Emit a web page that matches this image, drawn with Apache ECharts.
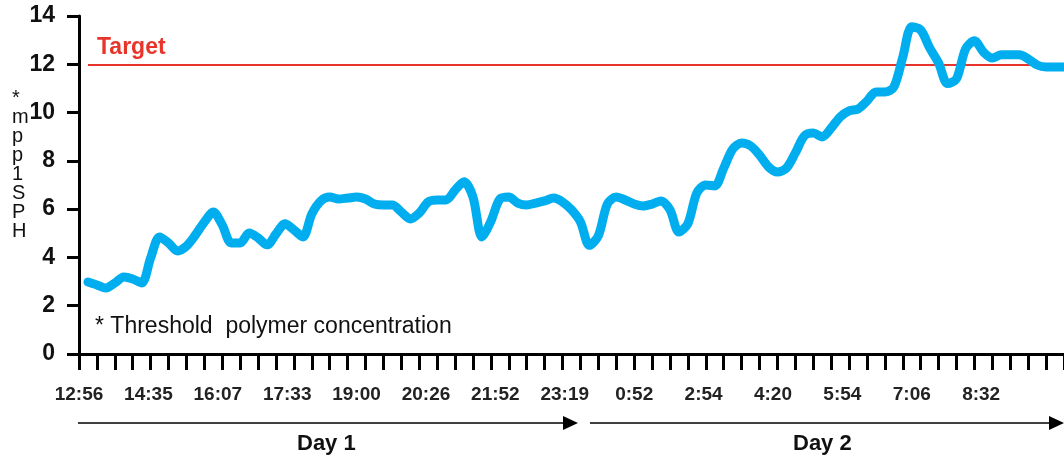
<!DOCTYPE html>
<html>
<head>
  <meta charset="utf-8">
  <title>Threshold polymer concentration</title>
  <style>
    html, body { margin: 0; padding: 0; background: #fff; }
    #chart { width: 1064px; height: 458px; }
  </style>
</head>
<body>
<div id="chart"></div>
<script src="https://cdn.jsdelivr.net/npm/echarts@6/dist/echarts.min.js"></script>
<script>
// time labels shown under the axis
const timeLabels = ['12:56', '14:35', '16:07', '17:33', '19:00', '20:26', '21:52',
  '23:19', '0:52', '2:54', '4:20', '5:54', '7:06', '8:32'];

// readings, one every 4 axis steps (first slot empty)
const readings = [null,
  2.98, 2.86, 2.73, 2.94, 3.19, 3.11, 2.94, 3.98, 4.85, 4.6,
  4.27, 4.47, 4.93, 5.47, 5.88, 5.34, 4.6, 4.6, 5.01, 4.81,
  4.52, 4.97, 5.39, 5.14, 4.85, 5.8, 6.34, 6.5, 6.42, 6.46,
  6.5, 6.42, 6.21, 6.17, 6.17, 5.88, 5.59, 5.84, 6.3, 6.38,
  6.38, 6.79, 7.13, 6.5, 4.85, 5.5, 6.42, 6.5, 6.25, 6.17,
  6.25, 6.34, 6.46, 6.3, 5.97, 5.47, 4.5, 4.9, 6.21, 6.5,
  6.38, 6.21, 6.13, 6.21, 6.34, 5.97, 5.05, 5.4, 6.67, 7.0,
  6.96, 7.7, 8.49, 8.74, 8.62, 8.24, 7.75, 7.54, 7.7, 8.33,
  9.03, 9.15, 8.99, 9.36, 9.82, 10.07, 10.15, 10.48, 10.85, 10.85,
  11.06, 12.3, 13.55, 13.42, 12.68, 12.05, 11.2, 11.4, 12.63, 12.97,
  12.51, 12.26, 12.39, 12.39, 12.39, 12.22, 11.97, 11.89, 11.89, 11.89];

const target = 12;
const yMin = 0, yMax = 14, yStep = 2;

// axis has 31 steps between labels, a tick every 8 steps
const labelEvery = 31, tickEvery = 8, stepsPerReading = 4;
const axisSteps = (readings.length - 1) * stepsPerReading;
const axisCats = [];
for (let i = 0; i <= axisSteps; i++) {
  axisCats.push(i % labelEvery === 0 ? (timeLabels[i / labelEvery] || '') : '');
}
const sampleCats = readings.map((v, i) => String(i));

const font = '"Liberation Sans", Arial, sans-serif';
const chart = echarts.init(document.getElementById('chart'));

chart.setOption({
  animation: false,
  grid: { left: 79, right: -4, top: 16, bottom: 104 },
  xAxis: [
    {
      type: 'category',
      data: axisCats,
      boundaryGap: false,
      axisLine: { lineStyle: { color: '#000', width: 3 } },
      axisTick: { interval: tickEvery - 1, length: 16, lineStyle: { color: '#000', width: 3 } },
      axisLabel: {
        interval: labelEvery - 1, margin: 31, color: '#222',
        fontFamily: font, fontWeight: 'bold', fontSize: 19
      },
      splitLine: { show: false }
    },
    {
      type: 'category',
      data: sampleCats,
      boundaryGap: false,
      show: false
    }
  ],
  yAxis: {
    type: 'value',
    min: yMin, max: yMax, interval: yStep,
    axisLine: { show: true, lineStyle: { color: '#000', width: 3 } },
    axisTick: { show: true, length: 12, lineStyle: { color: '#000', width: 3 } },
    axisLabel: { margin: 24, color: '#111', fontFamily: font, fontWeight: 'bold', fontSize: 23 },
    splitLine: { show: false }
  },
  series: [
    {
      type: 'line',
      xAxisIndex: 1,
      data: readings,
      showSymbol: false,
      smooth: 0.3,
      z: 10,
      lineStyle: { color: '#00AEEF', width: 9, cap: 'round', join: 'round' },
      markLine: {
        silent: true,
        symbol: 'none',
        z: 5,
        label: { show: false },
        lineStyle: { color: '#E8352B', width: 2, type: 'solid' },
        data: [[{ coord: [1, target] }, { coord: [readings.length - 1, target] }]]
      }
    }
  ],
  graphic: [
    {
      type: 'text', left: 97, top: 36,
      style: { text: 'Target', fill: '#E8352B', font: 'bold 23px ' + font }
    },
    {
      type: 'text', left: 95, top: 315,
      style: { text: '* Threshold  polymer concentration', fill: '#111', font: '23px ' + font }
    },
    {
      type: 'text', left: 12, top: 88,
      style: { text: '*\nm\np\np\n1\nS\nP\nH', fill: '#111', font: '20px ' + font, lineHeight: 19, align: 'center' }
    },
    // Day 1 arrow
    { type: 'line', shape: { x1: 78, y1: 423, x2: 566, y2: 423 }, style: { stroke: '#000', lineWidth: 1.5 } },
    { type: 'polygon', shape: { points: [[563, 416], [578, 423], [563, 430]] }, style: { fill: '#000' } },
    { type: 'text', left: 297, top: 433, style: { text: 'Day 1', fill: '#111', font: 'bold 22px ' + font } },
    // Day 2 arrow
    { type: 'line', shape: { x1: 590, y1: 423, x2: 1052, y2: 423 }, style: { stroke: '#000', lineWidth: 1.5 } },
    { type: 'polygon', shape: { points: [[1049, 416], [1064, 423], [1049, 430]] }, style: { fill: '#000' } },
    { type: 'text', left: 793, top: 433, style: { text: 'Day 2', fill: '#111', font: 'bold 22px ' + font } }
  ]
});
</script>
</body>
</html>
